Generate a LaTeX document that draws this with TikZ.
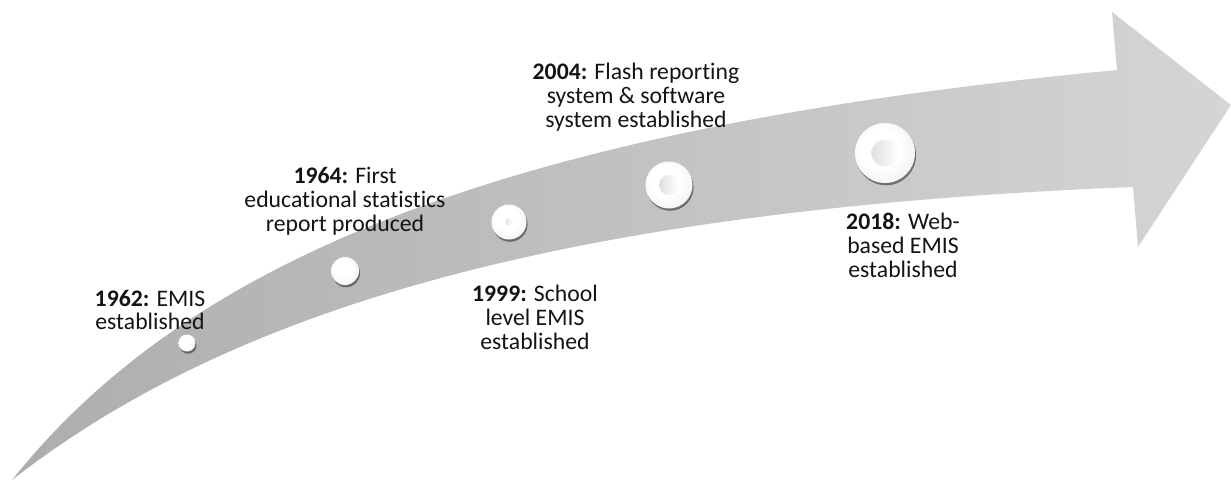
\documentclass[tikz,border=0pt]{standalone}
\usepackage{fontspec}
\setmainfont{Carlito}[Ligatures=NoCommon]
\usepackage{tikz}
\usetikzlibrary{shadows}

\pgfdeclareradialshading{beadshade}{\pgfpoint{-6bp}{6bp}}{color(0bp)=(white); color(16bp)=(white); color(30bp)=(gray!10); color(42bp)=(gray!35); color(50bp)=(gray!70)}

\tikzset{
  bead/.style={circle, inner sep=0pt, shading=beadshade,
    drop shadow={shadow xshift=0.6pt, shadow yshift=-1.3pt, opacity=0.65, fill=black!75}},
  milestone/.style={align=center, inner sep=0pt, text=black!92,
    font=\fontsize{13.5}{13.6}\selectfont}
}

\begin{document}
\begin{tikzpicture}[x=0.02cm, y=-0.02cm]
\useasboundingbox (0,0) rectangle (1231,481);
% curved arrow
\shade[left color=gray!64, right color=gray!33]
  (12,480) .. controls (180,270) and (480,130) .. (1117,70)
  -- (1112,12) -- (1231,105) -- (1138,247) -- (1133,187)
  .. controls (560,210) and (230,310) .. (12,480) -- cycle;
% beads
\node[bead, minimum size=0.34cm] (b1962) at (187,343) {};
\node[bead, minimum size=0.56cm] (b1964) at (345,271) {};
\node[bead, minimum size=0.70cm] (b1999) at (509,222) {};
\node[bead, minimum size=0.94cm] (b2004) at (669,185) {};
\node[bead, minimum size=1.20cm] (b2018) at (885,153) {};
\shade[left color=gray!22, right color=white] (b1999) circle[radius=0.07cm];
\shade[left color=gray!25, right color=white] (b2004) circle[radius=0.2cm];
\shade[left color=gray!25, right color=white] (b2018) circle[radius=0.27cm];
% labels
\node[milestone] (t1962) at (150,310) {\textbf{1962:} EMIS\\established};
\node[milestone] (t1964) at (345,201) {\textbf{1964:} First\\educational statistics\\report produced};
\node[milestone] (t1999) at (535,317) {\textbf{1999:} School\\level EMIS\\established};
\node[milestone] (t2004) at (636,97) {\textbf{2004:} Flash reporting\\system \& software\\system established};
\node[milestone] (t2018) at (903,245) {\textbf{2018:} Web-\\based EMIS\\established};
\end{tikzpicture}
\end{document}
